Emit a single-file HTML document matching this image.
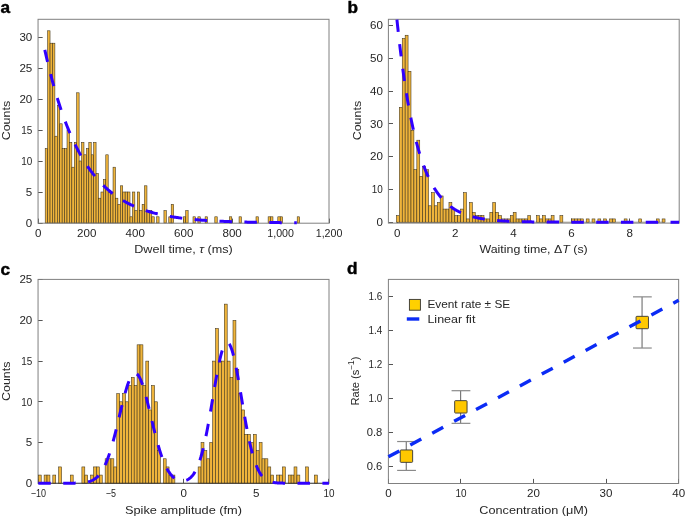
<!DOCTYPE html>
<html><head><meta charset="utf-8"><style>
html,body{margin:0;padding:0;background:#fff;}
body{width:685px;height:517px;overflow:hidden;font-family:"Liberation Sans",sans-serif;}
svg{display:block;will-change:transform;}
text{font-family:"Liberation Sans",sans-serif;}
</style></head><body>
<svg width="685" height="517" viewBox="0 0 685 517">
<defs><clipPath id="clipB"><rect x="388.4" y="19.3" width="290.8" height="210"/></clipPath></defs>
<rect width="685" height="517" fill="#fff"/>
<path d="M38.05,223.5h4.6M38.05,192.5h4.6M38.05,161.5h4.6M38.05,130.5h4.6M38.05,99.5h4.6M38.05,68.5h4.6M38.05,37.5h4.6M38.5,223.2v-4.6M86.5,223.2v-4.6M135.5,223.2v-4.6M183.5,223.2v-4.6M232.5,223.2v-4.6M280.5,223.2v-4.6M329.5,223.2v-4.6M388.4,222.5h4.6M388.4,189.5h4.6M388.4,156.5h4.6M388.4,123.5h4.6M388.4,91.5h4.6M388.4,58.5h4.6M388.4,25.5h4.6M397.5,223.1v-4.6M455.5,223.1v-4.6M513.5,223.1v-4.6M571.5,223.1v-4.6M629.5,223.1v-4.6M38.05,483.5h4.6M38.05,442.5h4.6M38.05,401.5h4.6M38.05,361.5h4.6M38.05,320.5h4.6M38.05,279.5h4.6M38.5,483.4v-4.6M110.5,483.4v-4.6M183.5,483.4v-4.6M256.5,483.4v-4.6M328.5,483.4v-4.6M388.4,466.5h4.6M388.4,432.5h4.6M388.4,398.5h4.6M388.4,364.5h4.6M388.4,330.5h4.6M388.4,296.5h4.6M388.5,483.5v-4.6M460.5,483.5v-4.6M533.5,483.5v-4.6M606.5,483.5v-4.6M678.5,483.5v-4.6" stroke="#555" stroke-width="1" fill="none"/>
<g fill="#EFB43B" stroke="#3b3018" stroke-width="0.55"><rect x="45.2" y="148.6" width="2.42" height="74.4"/><rect x="47.62" y="30.8" width="2.42" height="192.2"/><rect x="50.05" y="43.2" width="2.42" height="179.8"/><rect x="52.47" y="43.2" width="2.42" height="179.8"/><rect x="54.89" y="136.2" width="2.42" height="86.8"/><rect x="57.32" y="105.2" width="2.42" height="117.8"/><rect x="59.74" y="123.8" width="2.42" height="99.2"/><rect x="62.16" y="148.6" width="2.42" height="74.4"/><rect x="64.58" y="148.6" width="2.42" height="74.4"/><rect x="67.01" y="130" width="2.42" height="93"/><rect x="69.43" y="142.4" width="2.42" height="80.6"/><rect x="71.85" y="167.2" width="2.42" height="55.8"/><rect x="74.28" y="142.4" width="2.42" height="80.6"/><rect x="76.7" y="92.8" width="2.42" height="130.2"/><rect x="79.12" y="161" width="2.42" height="62"/><rect x="81.55" y="142.4" width="2.42" height="80.6"/><rect x="83.97" y="154.8" width="2.42" height="68.2"/><rect x="86.39" y="148.6" width="2.42" height="74.4"/><rect x="88.81" y="142.4" width="2.42" height="80.6"/><rect x="91.24" y="154.8" width="2.42" height="68.2"/><rect x="93.66" y="142.4" width="2.42" height="80.6"/><rect x="96.08" y="173.4" width="2.42" height="49.6"/><rect x="98.51" y="198.2" width="2.42" height="24.8"/><rect x="100.93" y="192" width="2.42" height="31"/><rect x="103.35" y="179.6" width="2.42" height="43.4"/><rect x="105.78" y="154.8" width="2.42" height="68.2"/><rect x="108.2" y="192" width="2.42" height="31"/><rect x="110.62" y="192" width="2.42" height="31"/><rect x="113.04" y="167.2" width="2.42" height="55.8"/><rect x="115.47" y="198.2" width="2.42" height="24.8"/><rect x="117.89" y="204.4" width="2.42" height="18.6"/><rect x="120.31" y="185.8" width="2.42" height="37.2"/><rect x="122.74" y="192" width="2.42" height="31"/><rect x="125.16" y="192" width="2.42" height="31"/><rect x="127.58" y="192" width="2.42" height="31"/><rect x="130" y="216.8" width="2.42" height="6.2"/><rect x="132.43" y="192" width="2.42" height="31"/><rect x="134.85" y="210.6" width="2.42" height="12.4"/><rect x="137.27" y="192" width="2.42" height="31"/><rect x="139.7" y="210.6" width="2.42" height="12.4"/><rect x="142.12" y="204.4" width="2.42" height="18.6"/><rect x="144.54" y="185.8" width="2.42" height="37.2"/><rect x="146.97" y="210.6" width="2.42" height="12.4"/><rect x="149.39" y="210.6" width="2.42" height="12.4"/><rect x="151.81" y="216.8" width="2.42" height="6.2"/><rect x="156.66" y="216.8" width="2.42" height="6.2"/><rect x="163.93" y="210.6" width="2.42" height="12.4"/><rect x="168.77" y="216.8" width="2.42" height="6.2"/><rect x="171.2" y="204.4" width="2.42" height="18.6"/><rect x="183.31" y="216.8" width="2.42" height="6.2"/><rect x="185.73" y="210.6" width="2.42" height="12.4"/><rect x="193" y="216.8" width="2.42" height="6.2"/><rect x="197.85" y="216.8" width="2.42" height="6.2"/><rect x="205.12" y="216.8" width="2.42" height="6.2"/><rect x="214.81" y="216.8" width="2.42" height="6.2"/><rect x="229.35" y="216.8" width="2.42" height="6.2"/><rect x="239.04" y="216.8" width="2.42" height="6.2"/><rect x="256" y="216.8" width="2.42" height="6.2"/><rect x="268.12" y="216.8" width="2.42" height="6.2"/><rect x="270.54" y="216.8" width="2.42" height="6.2"/><rect x="277.81" y="216.8" width="2.42" height="6.2"/><rect x="280.23" y="216.8" width="2.42" height="6.2"/><rect x="297.19" y="216.8" width="2.42" height="6.2"/></g>
<rect x="38.05" y="19.3" width="290.95" height="203.9" fill="none" stroke="#808080" stroke-width="1"/>
<path d="M44.79,49.8 L45.76,54.13 L46.73,58.35 L47.7,62.46 L48.67,66.48 L49.64,70.39 L50.61,74.21 L51.58,77.93 L52.55,81.55 L53.52,85.09 L54.49,88.54 L55.45,91.9 L56.42,95.17 L57.39,98.37 L58.36,101.49 L59.33,104.52 L60.3,107.49 L61.27,110.37 L62.24,113.19 L63.21,115.93 L64.18,118.61 L65.15,121.22 L66.12,123.76 L67.09,126.24 L68.05,128.66 L69.02,131.02 L69.99,133.32 L70.96,135.56 L71.93,137.75 L72.9,139.88 L73.87,141.96 L74.84,143.98 L75.81,145.96 L76.78,147.89 L77.75,149.76 L78.72,151.59 L79.68,153.38 L80.65,155.12 L81.62,156.82 L82.59,158.47 L83.56,160.08 L84.53,161.66 L85.5,163.19 L86.47,164.69 L87.44,166.14 L88.41,167.56 L89.38,168.95 L90.35,170.3 L91.32,171.62 L92.28,172.9 L93.25,174.16 L94.22,175.38 L95.19,176.57 L96.16,177.73 L97.13,178.86 L98.1,179.96 L99.07,181.04 L100.04,182.09 L101.01,183.11 L101.98,184.11 L102.95,185.08 L103.91,186.03 L104.88,186.95 L105.85,187.85 L106.82,188.73 L107.79,189.59 L108.76,190.42 L109.73,191.24 L110.7,192.03 L111.67,192.81 L112.64,193.56 L113.61,194.3 L114.58,195.01 L115.55,195.71 L116.51,196.4 L117.48,197.06 L118.45,197.71 L119.42,198.34 L120.39,198.96 L121.36,199.56 L122.33,200.15 L123.3,200.72 L124.27,201.27 L125.24,201.82 L126.21,202.35 L127.18,202.86 L128.14,203.37 L129.11,203.86 L130.08,204.34 L131.05,204.8 L132.02,205.26 L132.99,205.7 L133.96,206.13 L134.93,206.55 L135.9,206.97 L136.87,207.37 L137.84,207.76 L138.81,208.14 L139.78,208.51 L140.74,208.87 L141.71,209.23 L142.68,209.57 L143.65,209.91 L144.62,210.23 L145.59,210.55 L146.56,210.86 L147.53,211.17 L148.5,211.46 L149.47,211.75 L150.44,212.03 L151.41,212.31 L152.37,212.57 L153.34,212.83 L154.31,213.09 L155.28,213.34 L156.25,213.58 L157.22,213.81 L158.19,214.04 L159.16,214.27 L160.13,214.49 L161.1,214.7 L162.07,214.91 L163.04,215.11 L164.01,215.31 L164.97,215.5 L165.94,215.69 L166.91,215.87 L167.88,216.05 L168.85,216.22 L169.82,216.39 L170.79,216.55 L171.76,216.72 L172.73,216.87 L173.7,217.03 L174.67,217.18 L175.64,217.32 L176.6,217.46 L177.57,217.6 L178.54,217.74 L179.51,217.87 L180.48,218 L181.45,218.12 L182.42,218.24 L183.39,218.36 L184.36,218.48 L185.33,218.59 L186.3,218.7 L187.27,218.81 L188.24,218.91 L189.2,219.02 L190.17,219.12 L191.14,219.21 L192.11,219.31 L193.08,219.4 L194.05,219.49 L195.02,219.58 L195.99,219.66 L196.96,219.75 L197.93,219.83 L198.9,219.91 L199.87,219.98 L200.83,220.06 L201.8,220.13 L202.77,220.2 L203.74,220.27 L204.71,220.34 L205.68,220.41 L206.65,220.47 L207.62,220.54 L208.59,220.6 L209.56,220.66 L210.53,220.72 L211.5,220.77 L212.47,220.83 L213.43,220.88 L214.4,220.94 L215.37,220.99 L216.34,221.04 L217.31,221.09 L218.28,221.14 L219.25,221.18 L220.22,221.23 L221.19,221.27 L222.16,221.32 L223.13,221.36 L224.1,221.4 L225.06,221.44 L226.03,221.48 L227,221.52 L227.97,221.55 L228.94,221.59 L229.91,221.62 L230.88,221.66 L231.85,221.69 L232.82,221.72 L233.79,221.76 L234.76,221.79 L235.73,221.82 L236.7,221.85 L237.66,221.88 L238.63,221.9 L239.6,221.93 L240.57,221.96 L241.54,221.98 L242.51,222.01 L243.48,222.03 L244.45,222.06 L245.42,222.08 L246.39,222.11 L247.36,222.13 L248.33,222.15 L249.29,222.17 L250.26,222.19 L251.23,222.21 L252.2,222.23 L253.17,222.25 L254.14,222.27 L255.11,222.29 L256.08,222.31 L257.05,222.32 L258.02,222.34 L258.99,222.36 L259.96,222.37 L260.93,222.39 L261.89,222.4 L262.86,222.42 L263.83,222.43 L264.8,222.45 L265.77,222.46 L266.74,222.47 L267.71,222.49 L268.68,222.5 L269.65,222.51 L270.62,222.52 L271.59,222.54 L272.56,222.55 L273.52,222.56 L274.49,222.57 L275.46,222.58 L276.43,222.59 L277.4,222.6 L278.37,222.61 L279.34,222.62 L280.31,222.63 L281.28,222.64 L282.25,222.65 L283.22,222.66 L284.19,222.67 L285.16,222.68 L286.12,222.68 L287.09,222.69 L288.06,222.7 L289.03,222.71 L290,222.71 L290.97,222.72 L291.94,222.73 L292.91,222.73 L293.88,222.74 L294.85,222.75 L295.82,222.75 L296.79,222.76" fill="none" stroke="#3000FF" stroke-width="3" stroke-dasharray="12.46 12.46"/>
<line x1="396.4" y1="222.2" x2="665.04" y2="222.2" stroke="#3b3018" stroke-width="0.5"/>
<g fill="#EFB43B" stroke="#3b3018" stroke-width="0.55"><rect x="396.4" y="215.64" width="2.91" height="6.56"/><rect x="399.32" y="107.4" width="2.91" height="114.8"/><rect x="402.24" y="38.52" width="2.91" height="183.68"/><rect x="405.16" y="35.24" width="2.91" height="186.96"/><rect x="408.08" y="71.32" width="2.91" height="150.88"/><rect x="411" y="130.36" width="2.91" height="91.84"/><rect x="413.92" y="169.72" width="2.91" height="52.48"/><rect x="416.84" y="140.2" width="2.91" height="82"/><rect x="419.76" y="176.28" width="2.91" height="45.92"/><rect x="422.68" y="166.44" width="2.91" height="55.76"/><rect x="425.6" y="169.72" width="2.91" height="52.48"/><rect x="428.52" y="205.8" width="2.91" height="16.4"/><rect x="431.44" y="192.68" width="2.91" height="29.52"/><rect x="434.36" y="205.8" width="2.91" height="16.4"/><rect x="437.28" y="202.52" width="2.91" height="19.68"/><rect x="440.2" y="195.96" width="2.91" height="26.24"/><rect x="443.12" y="209.08" width="2.91" height="13.12"/><rect x="446.04" y="209.08" width="2.91" height="13.12"/><rect x="448.96" y="202.52" width="2.91" height="19.68"/><rect x="451.88" y="209.08" width="2.91" height="13.12"/><rect x="454.8" y="215.64" width="2.91" height="6.56"/><rect x="457.72" y="215.64" width="2.91" height="6.56"/><rect x="460.64" y="209.08" width="2.91" height="13.12"/><rect x="463.56" y="192.68" width="2.91" height="29.52"/><rect x="466.48" y="218.92" width="2.91" height="3.28"/><rect x="469.4" y="202.52" width="2.91" height="19.68"/><rect x="472.32" y="212.36" width="2.91" height="9.84"/><rect x="475.24" y="215.64" width="2.91" height="6.56"/><rect x="478.16" y="215.64" width="2.91" height="6.56"/><rect x="481.08" y="215.64" width="2.91" height="6.56"/><rect x="484" y="218.92" width="2.91" height="3.28"/><rect x="486.92" y="218.92" width="2.91" height="3.28"/><rect x="489.84" y="212.36" width="2.91" height="9.84"/><rect x="492.76" y="202.52" width="2.91" height="19.68"/><rect x="495.68" y="212.36" width="2.91" height="9.84"/><rect x="498.6" y="215.64" width="2.91" height="6.56"/><rect x="501.52" y="218.92" width="2.91" height="3.28"/><rect x="504.44" y="218.92" width="2.91" height="3.28"/><rect x="507.36" y="218.92" width="2.91" height="3.28"/><rect x="510.28" y="215.64" width="2.91" height="6.56"/><rect x="513.2" y="212.36" width="2.91" height="9.84"/><rect x="516.12" y="218.92" width="2.91" height="3.28"/><rect x="519.04" y="218.92" width="2.91" height="3.28"/><rect x="521.96" y="218.92" width="2.91" height="3.28"/><rect x="524.88" y="218.92" width="2.91" height="3.28"/><rect x="527.8" y="215.64" width="2.91" height="6.56"/><rect x="536.56" y="215.64" width="2.91" height="6.56"/><rect x="539.48" y="218.92" width="2.91" height="3.28"/><rect x="542.4" y="215.64" width="2.91" height="6.56"/><rect x="545.32" y="218.92" width="2.91" height="3.28"/><rect x="548.24" y="218.92" width="2.91" height="3.28"/><rect x="551.16" y="215.64" width="2.91" height="6.56"/><rect x="559.92" y="215.64" width="2.91" height="6.56"/><rect x="571.6" y="218.92" width="2.91" height="3.28"/><rect x="574.52" y="218.92" width="2.91" height="3.28"/><rect x="577.44" y="218.92" width="2.91" height="3.28"/><rect x="580.36" y="218.92" width="2.91" height="3.28"/><rect x="586.2" y="218.92" width="2.91" height="3.28"/><rect x="592.04" y="218.92" width="2.91" height="3.28"/><rect x="597.88" y="218.92" width="2.91" height="3.28"/><rect x="603.72" y="218.92" width="2.91" height="3.28"/><rect x="609.56" y="218.92" width="2.91" height="3.28"/><rect x="612.48" y="218.92" width="2.91" height="3.28"/><rect x="624.16" y="218.92" width="2.91" height="3.28"/><rect x="638.76" y="218.92" width="2.91" height="3.28"/><rect x="656.28" y="218.92" width="2.91" height="3.28"/><rect x="662.12" y="218.92" width="2.91" height="3.28"/></g>
<rect x="388.4" y="19.3" width="290.8" height="203.8" fill="none" stroke="#808080" stroke-width="1"/>
<path d="M396.93,19.49 L397.22,22.29 L397.51,25.04 L397.8,27.76 L398.09,30.45 L398.38,33.09 L398.67,35.7 L398.96,38.27 L399.25,40.81 L399.55,43.31 L399.84,45.78 L400.13,48.21 L400.42,50.61 L400.71,52.98 L401,55.31 L401.29,57.61 L401.58,59.88 L401.87,62.12 L402.16,64.33 L402.46,66.51 L402.75,68.65 L403.04,70.77 L403.33,72.86 L403.62,74.92 L403.91,76.95 L404.2,78.96 L404.49,80.93 L404.78,82.88 L405.07,84.8 L405.37,86.7 L405.66,88.57 L405.95,90.41 L406.24,92.23 L406.53,94.02 L406.82,95.79 L407.11,97.53 L407.4,99.25 L407.69,100.95 L407.98,102.62 L408.28,104.27 L408.57,105.89 L408.86,107.5 L409.15,109.08 L409.44,110.64 L409.73,112.18 L410.02,113.7 L410.31,115.19 L410.6,116.67 L410.89,118.13 L411.19,119.56 L411.48,120.98 L411.77,122.37 L412.06,123.75 L412.35,125.11 L412.64,126.45 L412.93,127.77 L413.22,129.07 L413.51,130.35 L413.8,131.62 L414.1,132.87 L414.39,134.1 L414.68,135.32 L414.97,136.52 L415.26,137.7 L415.55,138.86 L415.84,140.01 L416.13,141.15 L416.42,142.26 L416.71,143.37 L417.01,144.45 L417.3,145.53 L417.59,146.58 L417.88,147.63 L418.17,148.66 L418.46,149.67 L418.75,150.67 L419.04,151.66 L419.33,152.63 L419.62,153.59 L419.92,154.54 L420.21,155.47 L420.5,156.39 L420.79,157.3 L421.08,158.19 L421.37,159.08 L421.66,159.95 L421.95,160.81 L422.24,161.65 L422.53,162.49 L422.83,163.31 L423.12,164.12 L423.41,164.92 L423.7,165.71 L423.99,166.49 L424.28,167.26 L424.57,168.02 L424.86,168.77 L425.15,169.5 L425.44,170.23 L425.74,170.95 L426.03,171.65 L426.32,172.35 L426.61,173.04 L426.9,173.72 L427.19,174.39 L427.48,175.05 L427.77,175.7 L428.06,176.34 L428.35,176.97 L428.65,177.59 L428.94,178.21 L429.23,178.82 L429.52,179.41 L429.81,180 L430.1,180.59 L430.39,181.16 L430.68,181.73 L430.97,182.28 L431.26,182.83 L431.56,183.38 L431.85,183.91 L432.14,184.44 L432.43,184.96 L432.72,185.48 L433.01,185.98 L433.3,186.48 L433.59,186.97 L433.88,187.46 L434.17,187.94 L434.47,188.41 L434.76,188.88 L435.05,189.34 L435.34,189.79 L435.63,190.24 L435.92,190.68 L436.21,191.11 L436.5,191.54 L436.79,191.97 L437.08,192.38 L437.38,192.79 L437.67,193.2 L437.96,193.6 L438.25,193.99 L438.54,194.38 L438.83,194.77 L439.12,195.14 L439.41,195.52 L439.7,195.89 L439.99,196.25 L440.29,196.61 L440.58,196.96 L440.87,197.31 L441.16,197.65 L441.45,197.99 L441.74,198.32 L442.03,198.65 L442.32,198.98 L442.61,199.3 L442.9,199.61 L443.2,199.93 L443.49,200.23 L443.78,200.54 L444.07,200.83 L444.36,201.13 L444.65,201.42 L444.94,201.71 L445.23,201.99 L445.52,202.27 L445.81,202.54 L446.11,202.81 L446.4,203.08 L446.69,203.35 L446.98,203.61 L447.27,203.86 L447.56,204.11 L447.85,204.36 L448.14,204.61 L448.43,204.85 L448.72,205.09 L449.02,205.33 L449.31,205.56 L449.6,205.79 L449.89,206.02 L450.18,206.24 L450.47,206.46 L450.76,206.68 L451.05,206.89 L451.34,207.1 L451.63,207.31 L451.93,207.52 L452.22,207.72 L452.51,207.92 L452.8,208.12 L453.09,208.31 L453.38,208.5 L453.67,208.69 L453.96,208.88 L454.25,209.06 L454.54,209.24 L454.84,209.42 L455.13,209.6 L455.42,209.77 L455.71,209.94 L456,210.11 L456.29,210.28 L456.58,210.44 L456.87,210.6 L457.16,210.76 L457.45,210.92 L457.75,211.08 L458.04,211.23 L458.33,211.38 L458.62,211.53 L458.91,211.68 L459.2,211.82 L459.49,211.97 L459.78,212.11 L460.07,212.25 L460.36,212.38 L460.66,212.52 L460.95,212.65 L461.24,212.78 L461.53,212.91 L461.82,213.04 L462.11,213.17 L462.4,213.29 L462.69,213.42 L462.98,213.54 L463.27,213.66 L463.57,213.77 L463.86,213.89 L464.15,214.01 L464.44,214.12 L464.73,214.23 L465.02,214.34 L465.31,214.45 L465.6,214.56 L465.89,214.66 L466.18,214.76 L466.48,214.87 L466.77,214.97 L467.06,215.07 L467.35,215.17 L467.64,215.26 L467.93,215.36 L468.22,215.45 L468.51,215.55 L468.8,215.64 L469.09,215.73 L469.39,215.82 L469.68,215.91 L469.97,215.99 L470.26,216.08 L470.55,216.16 L470.84,216.25 L471.13,216.33 L471.42,216.41 L471.71,216.49 L472,216.57 L472.3,216.65 L472.59,216.72 L472.88,216.8 L473.17,216.87 L473.46,216.95 L473.75,217.02 L474.04,217.09 L474.33,217.16 L474.62,217.23 L474.91,217.3 L475.21,217.37 L475.5,217.43 L475.79,217.5 L476.08,217.56 L476.37,217.63 L476.66,217.69 L476.95,217.75 L477.24,217.81 L477.53,217.87 L477.82,217.93 L478.12,217.99 L478.41,218.05 L478.7,218.11 L478.99,218.16 L479.28,218.22 L479.57,218.28 L479.86,218.33 L480.15,218.38 L480.44,218.44 L480.73,218.49 L481.03,218.54 L481.32,218.59 L481.61,218.64 L481.9,218.69 L482.19,218.74 L482.48,218.78 L482.77,218.83 L483.06,218.88 L483.35,218.92 L483.64,218.97 L483.94,219.01 L484.23,219.06 L484.52,219.1 L484.81,219.14 L485.1,219.19 L485.39,219.23 L485.68,219.27 L485.97,219.31 L486.26,219.35 L486.55,219.39 L486.85,219.43 L487.14,219.46 L487.43,219.5 L487.72,219.54 L488.01,219.58 L488.3,219.61 L488.59,219.65 L488.88,219.68 L489.17,219.72 L489.46,219.75 L489.76,219.79 L490.05,219.82 L490.34,219.85 L490.63,219.88 L490.92,219.92 L491.21,219.95 L491.5,219.98 L491.79,220.01 L492.08,220.04 L492.37,220.07 L492.67,220.1 L492.96,220.13 L493.25,220.16 L493.54,220.18 L493.83,220.21 L494.12,220.24 L494.41,220.27 L494.7,220.29 L494.99,220.32 L495.28,220.35 L495.58,220.37 L495.87,220.4 L496.16,220.42 L496.45,220.45 L496.74,220.47 L497.03,220.49 L497.32,220.52 L497.61,220.54 L497.9,220.56 L498.19,220.59 L498.49,220.61 L498.78,220.63 L499.07,220.65 L499.36,220.67 L499.65,220.69 L499.94,220.72 L500.23,220.74 L500.52,220.76 L500.81,220.78 L501.1,220.8 L501.4,220.82 L501.69,220.83 L501.98,220.85 L502.27,220.87 L502.56,220.89 L502.85,220.91 L503.14,220.93 L503.43,220.94 L503.72,220.96 L504.01,220.98 L504.31,220.99 L504.6,221.01 L504.89,221.03 L505.18,221.04 L505.47,221.06 L505.76,221.08 L506.05,221.09 L506.34,221.11 L506.63,221.12 L506.92,221.14 L507.22,221.15 L507.51,221.17 L507.8,221.18 L508.09,221.19 L508.38,221.21 L508.67,221.22 L508.96,221.23 L509.25,221.25 L509.54,221.26 L509.83,221.27 L510.13,221.29 L510.42,221.3 L510.71,221.31 L511,221.32 L511.29,221.34 L511.58,221.35 L511.87,221.36 L512.16,221.37 L512.45,221.38 L512.74,221.39 L513.04,221.41 L513.33,221.42 L513.62,221.43 L513.91,221.44 L514.2,221.45 L514.49,221.46 L514.78,221.47 L515.07,221.48 L515.36,221.49 L515.65,221.5 L515.95,221.51 L516.24,221.52 L516.53,221.53 L516.82,221.54 L517.11,221.55 L517.4,221.55 L517.69,221.56 L517.98,221.57 L518.27,221.58 L518.56,221.59 L518.86,221.6 L519.15,221.61 L519.44,221.61 L519.73,221.62 L520.02,221.63 L520.31,221.64 L520.6,221.65 L520.89,221.65 L521.18,221.66 L521.47,221.67 L521.77,221.68 L522.06,221.68 L522.35,221.69 L522.64,221.7 L522.93,221.7 L523.22,221.71 L523.51,221.72 L523.8,221.72 L524.09,221.73 L524.38,221.74 L524.68,221.74 L524.97,221.75 L525.26,221.76 L525.55,221.76 L525.84,221.77 L526.13,221.77 L526.42,221.78 L526.71,221.79 L527,221.79 L527.29,221.8 L527.59,221.8 L527.88,221.81 L528.17,221.81 L528.46,221.82 L528.75,221.82 L529.04,221.83 L529.33,221.83 L529.62,221.84 L529.91,221.84 L530.2,221.85 L530.5,221.85 L530.79,221.86 L531.08,221.86 L531.37,221.87 L531.66,221.87 L531.95,221.88 L532.24,221.88 L532.53,221.89 L532.82,221.89 L533.11,221.9 L533.41,221.9 L533.7,221.9 L533.99,221.91 L534.28,221.91 L534.57,221.92 L534.86,221.92 L535.15,221.92 L535.44,221.93 L535.73,221.93 L536.02,221.93 L536.32,221.94 L536.61,221.94 L536.9,221.95 L537.19,221.95 L537.48,221.95 L537.77,221.96 L538.06,221.96 L538.35,221.96 L538.64,221.97 L538.93,221.97 L539.23,221.97 L539.52,221.98 L539.81,221.98 L540.1,221.98 L540.39,221.98 L540.68,221.99 L540.97,221.99 L541.26,221.99 L541.55,222 L541.84,222 L542.14,222 L542.43,222 L542.72,222.01 L543.01,222.01 L543.3,222.01 L543.59,222.02 L543.88,222.02 L544.17,222.02 L544.46,222.02 L544.75,222.03 L545.05,222.03 L545.34,222.03 L545.63,222.03 L545.92,222.03 L546.21,222.04 L546.5,222.04 L546.79,222.04 L547.08,222.04 L547.37,222.05 L547.66,222.05 L547.96,222.05 L548.25,222.05 L548.54,222.05 L548.83,222.06 L549.12,222.06 L549.41,222.06 L549.7,222.06 L549.99,222.06 L550.28,222.07 L550.57,222.07 L550.87,222.07 L551.16,222.07 L551.45,222.07 L551.74,222.07 L552.03,222.08 L552.32,222.08 L552.61,222.08 L552.9,222.08 L553.19,222.08 L553.48,222.08 L553.78,222.09 L554.07,222.09 L554.36,222.09 L554.65,222.09 L554.94,222.09 L555.23,222.09 L555.52,222.1 L555.81,222.1 L556.1,222.1 L556.39,222.1 L556.69,222.1 L556.98,222.1 L557.27,222.1 L557.56,222.11 L557.85,222.11 L558.14,222.11 L558.43,222.11 L558.72,222.11 L559.01,222.11 L559.3,222.11 L559.6,222.11 L559.89,222.12 L560.18,222.12 L560.47,222.12 L560.76,222.12 L561.05,222.12 L561.34,222.12 L561.63,222.12 L561.92,222.12 L562.21,222.12 L562.51,222.13 L562.8,222.13 L563.09,222.13 L563.38,222.13 L563.67,222.13 L563.96,222.13 L564.25,222.13 L564.54,222.13 L564.83,222.13 L565.12,222.13 L565.42,222.13 L565.71,222.14 L566,222.14 L566.29,222.14 L566.58,222.14 L566.87,222.14 L567.16,222.14 L567.45,222.14 L567.74,222.14 L568.03,222.14 L568.33,222.14 L568.62,222.14 L568.91,222.14 L569.2,222.15 L569.49,222.15 L569.78,222.15 L570.07,222.15 L570.36,222.15 L570.65,222.15 L570.94,222.15 L571.24,222.15 L571.53,222.15 L571.82,222.15 L572.11,222.15 L572.4,222.15 L572.69,222.15 L572.98,222.15 L573.27,222.16 L573.56,222.16 L573.85,222.16 L574.15,222.16 L574.44,222.16 L574.73,222.16 L575.02,222.16 L575.31,222.16 L575.6,222.16 L575.89,222.16 L576.18,222.16 L576.47,222.16 L576.76,222.16 L577.06,222.16 L577.35,222.16 L577.64,222.16 L577.93,222.16 L578.22,222.16 L578.51,222.17 L578.8,222.17 L579.09,222.17 L579.38,222.17 L579.67,222.17 L579.97,222.17 L580.26,222.17 L580.55,222.17 L580.84,222.17 L581.13,222.17 L581.42,222.17 L581.71,222.17 L582,222.17 L582.29,222.17 L582.58,222.17 L582.88,222.17 L583.17,222.17 L583.46,222.17 L583.75,222.17 L584.04,222.17 L584.33,222.17 L584.62,222.17 L584.91,222.17 L585.2,222.17 L585.49,222.17 L585.79,222.18 L586.08,222.18 L586.37,222.18 L586.66,222.18 L586.95,222.18 L587.24,222.18 L587.53,222.18 L587.82,222.18 L588.11,222.18 L588.4,222.18 L588.7,222.18 L588.99,222.18 L589.28,222.18 L589.57,222.18 L589.86,222.18 L590.15,222.18 L590.44,222.18 L590.73,222.18 L591.02,222.18 L591.31,222.18 L591.61,222.18 L591.9,222.18 L592.19,222.18 L592.48,222.18 L592.77,222.18 L593.06,222.18 L593.35,222.18 L593.64,222.18 L593.93,222.18 L594.22,222.18 L594.52,222.18 L594.81,222.18 L595.1,222.18 L595.39,222.18 L595.68,222.18 L595.97,222.18 L596.26,222.19 L596.55,222.19 L596.84,222.19 L597.13,222.19 L597.43,222.19 L597.72,222.19 L598.01,222.19 L598.3,222.19 L598.59,222.19 L598.88,222.19 L599.17,222.19 L599.46,222.19 L599.75,222.19 L600.04,222.19 L600.34,222.19 L600.63,222.19 L600.92,222.19 L601.21,222.19 L601.5,222.19 L601.79,222.19 L602.08,222.19 L602.37,222.19 L602.66,222.19 L602.95,222.19 L603.25,222.19 L603.54,222.19 L603.83,222.19 L604.12,222.19 L604.41,222.19 L604.7,222.19 L604.99,222.19 L605.28,222.19 L605.57,222.19 L605.86,222.19 L606.16,222.19 L606.45,222.19 L606.74,222.19 L607.03,222.19 L607.32,222.19 L607.61,222.19 L607.9,222.19 L608.19,222.19 L608.48,222.19 L608.77,222.19 L609.07,222.19 L609.36,222.19 L609.65,222.19 L609.94,222.19 L610.23,222.19 L610.52,222.19 L610.81,222.19 L611.1,222.19 L611.39,222.19 L611.68,222.19 L611.98,222.19 L612.27,222.19 L612.56,222.19 L612.85,222.19 L613.14,222.19 L613.43,222.19 L613.72,222.19 L614.01,222.19 L614.3,222.19 L614.59,222.19 L614.89,222.19 L615.18,222.19 L615.47,222.19 L615.76,222.19 L616.05,222.19 L616.34,222.19 L616.63,222.19 L616.92,222.19 L617.21,222.19 L617.5,222.19 L617.8,222.19 L618.09,222.19 L618.38,222.19 L618.67,222.19 L618.96,222.19 L619.25,222.2 L619.54,222.2 L619.83,222.2 L620.12,222.2 L620.41,222.2 L620.71,222.2 L621,222.2 L621.29,222.2 L621.58,222.2 L621.87,222.2 L622.16,222.2 L622.45,222.2 L622.74,222.2 L623.03,222.2 L623.32,222.2 L623.62,222.2 L623.91,222.2 L624.2,222.2 L624.49,222.2 L624.78,222.2 L625.07,222.2 L625.36,222.2 L625.65,222.2 L625.94,222.2 L626.23,222.2 L626.53,222.2 L626.82,222.2 L627.11,222.2 L627.4,222.2 L627.69,222.2 L627.98,222.2 L628.27,222.2 L628.56,222.2 L628.85,222.2 L629.14,222.2 L629.44,222.2 L629.73,222.2 L630.02,222.2 L630.31,222.2 L630.6,222.2 L630.89,222.2 L631.18,222.2 L631.47,222.2 L631.76,222.2 L632.05,222.2 L632.35,222.2 L632.64,222.2 L632.93,222.2 L633.22,222.2 L633.51,222.2 L633.8,222.2 L634.09,222.2 L634.38,222.2 L634.67,222.2 L634.96,222.2 L635.26,222.2 L635.55,222.2 L635.84,222.2 L636.13,222.2 L636.42,222.2 L636.71,222.2 L637,222.2 L637.29,222.2 L637.58,222.2 L637.87,222.2 L638.17,222.2 L638.46,222.2 L638.75,222.2 L639.04,222.2 L639.33,222.2 L639.62,222.2 L639.91,222.2 L640.2,222.2 L640.49,222.2 L640.78,222.2 L641.08,222.2 L641.37,222.2 L641.66,222.2 L641.95,222.2 L642.24,222.2 L642.53,222.2 L642.82,222.2 L643.11,222.2 L643.4,222.2 L643.69,222.2 L643.99,222.2 L644.28,222.2 L644.57,222.2 L644.86,222.2 L645.15,222.2 L645.44,222.2 L645.73,222.2 L646.02,222.2 L646.31,222.2 L646.6,222.2 L646.9,222.2 L647.19,222.2 L647.48,222.2 L647.77,222.2 L648.06,222.2 L648.35,222.2 L648.64,222.2 L648.93,222.2 L649.22,222.2 L649.51,222.2 L649.81,222.2 L650.1,222.2 L650.39,222.2 L650.68,222.2 L650.97,222.2 L651.26,222.2 L651.55,222.2 L651.84,222.2 L652.13,222.2 L652.42,222.2 L652.72,222.2 L653.01,222.2 L653.3,222.2 L653.59,222.2 L653.88,222.2 L654.17,222.2 L654.46,222.2 L654.75,222.2 L655.04,222.2 L655.33,222.2 L655.63,222.2 L655.92,222.2 L656.21,222.2 L656.5,222.2 L656.79,222.2 L657.08,222.2 L657.37,222.2 L657.66,222.2 L657.95,222.2 L658.24,222.2 L658.54,222.2 L658.83,222.2 L659.12,222.2 L659.41,222.2 L659.7,222.2 L659.99,222.2 L660.28,222.2 L660.57,222.2 L660.86,222.2 L661.15,222.2 L661.45,222.2 L661.74,222.2 L662.03,222.2 L662.32,222.2 L662.61,222.2 L662.9,222.2 L663.19,222.2 L663.48,222.2 L663.77,222.2 L664.06,222.2 L664.36,222.2 L664.65,222.2 L664.94,222.2 L665.23,222.2 L665.52,222.2 L665.81,222.2 L666.1,222.2 L666.39,222.2 L666.68,222.2 L666.97,222.2 L667.27,222.2 L667.56,222.2 L667.85,222.2 L668.14,222.2 L668.43,222.2 L668.72,222.2 L669.01,222.2 L669.3,222.2 L669.59,222.2 L669.88,222.2 L670.18,222.2 L670.47,222.2 L670.76,222.2 L671.05,222.2 L671.34,222.2 L671.63,222.2 L671.92,222.2 L672.21,222.2 L672.5,222.2 L672.79,222.2 L673.09,222.2 L673.38,222.2 L673.67,222.2 L673.96,222.2 L674.25,222.2 L674.54,222.2 L674.83,222.2 L675.12,222.2 L675.41,222.2 L675.7,222.2 L676,222.2 L676.29,222.2 L676.58,222.2 L676.87,222.2 L677.16,222.2 L677.45,222.2 L677.74,222.2 L678.03,222.2 L678.32,222.2 L678.61,222.2 L678.91,222.2 L679.2,222.2" fill="none" stroke="#3000FF" stroke-width="3" stroke-dasharray="12.39 12.39" clip-path="url(#clipB)"/>
<rect x="38.05" y="279.4" width="290.95" height="204" fill="none" stroke="#808080" stroke-width="1"/>
<g fill="#EFB43B" stroke="#3b3018" stroke-width="0.55"><rect x="38.3" y="475.06" width="2.91" height="8.14"/><rect x="44.11" y="475.06" width="2.91" height="8.14"/><rect x="47.02" y="475.06" width="2.91" height="8.14"/><rect x="52.83" y="475.06" width="2.91" height="8.14"/><rect x="58.64" y="466.92" width="2.91" height="16.28"/><rect x="70.27" y="475.06" width="2.91" height="8.14"/><rect x="81.89" y="466.92" width="2.91" height="16.28"/><rect x="84.8" y="475.06" width="2.91" height="8.14"/><rect x="90.61" y="475.06" width="2.91" height="8.14"/><rect x="93.51" y="466.92" width="2.91" height="16.28"/><rect x="96.42" y="466.92" width="2.91" height="16.28"/><rect x="99.33" y="475.06" width="2.91" height="8.14"/><rect x="105.14" y="458.78" width="2.91" height="24.42"/><rect x="108.04" y="458.78" width="2.91" height="24.42"/><rect x="110.95" y="458.78" width="2.91" height="24.42"/><rect x="113.86" y="466.92" width="2.91" height="16.28"/><rect x="116.76" y="393.66" width="2.91" height="89.54"/><rect x="119.67" y="401.8" width="2.91" height="81.4"/><rect x="122.57" y="393.66" width="2.91" height="89.54"/><rect x="125.48" y="401.8" width="2.91" height="81.4"/><rect x="128.39" y="385.52" width="2.91" height="97.68"/><rect x="131.29" y="377.38" width="2.91" height="105.82"/><rect x="134.2" y="385.52" width="2.91" height="97.68"/><rect x="137.1" y="344.82" width="2.91" height="138.38"/><rect x="140.01" y="344.82" width="2.91" height="138.38"/><rect x="142.92" y="385.52" width="2.91" height="97.68"/><rect x="145.82" y="361.1" width="2.91" height="122.1"/><rect x="148.73" y="409.94" width="2.91" height="73.26"/><rect x="151.63" y="385.52" width="2.91" height="97.68"/><rect x="154.54" y="401.8" width="2.91" height="81.4"/><rect x="157.45" y="450.64" width="2.91" height="32.56"/><rect x="163.26" y="458.78" width="2.91" height="24.42"/><rect x="166.16" y="466.92" width="2.91" height="16.28"/><rect x="169.07" y="475.06" width="2.91" height="8.14"/><rect x="171.98" y="475.06" width="2.91" height="8.14"/><rect x="198.13" y="466.92" width="2.91" height="16.28"/><rect x="201.04" y="442.5" width="2.91" height="40.7"/><rect x="203.94" y="450.64" width="2.91" height="32.56"/><rect x="206.85" y="458.78" width="2.91" height="24.42"/><rect x="209.75" y="442.5" width="2.91" height="40.7"/><rect x="212.66" y="361.1" width="2.91" height="122.1"/><rect x="215.57" y="328.54" width="2.91" height="154.66"/><rect x="218.47" y="361.1" width="2.91" height="122.1"/><rect x="221.38" y="361.1" width="2.91" height="122.1"/><rect x="224.28" y="304.12" width="2.91" height="179.08"/><rect x="227.19" y="361.1" width="2.91" height="122.1"/><rect x="230.1" y="377.38" width="2.91" height="105.82"/><rect x="233" y="320.4" width="2.91" height="162.8"/><rect x="235.91" y="369.24" width="2.91" height="113.96"/><rect x="238.81" y="393.66" width="2.91" height="89.54"/><rect x="241.72" y="409.94" width="2.91" height="73.26"/><rect x="244.63" y="434.36" width="2.91" height="48.84"/><rect x="247.53" y="434.36" width="2.91" height="48.84"/><rect x="250.44" y="442.5" width="2.91" height="40.7"/><rect x="253.34" y="434.36" width="2.91" height="48.84"/><rect x="256.25" y="450.64" width="2.91" height="32.56"/><rect x="259.16" y="442.5" width="2.91" height="40.7"/><rect x="262.06" y="458.78" width="2.91" height="24.42"/><rect x="264.97" y="458.78" width="2.91" height="24.42"/><rect x="267.87" y="466.92" width="2.91" height="16.28"/><rect x="270.78" y="475.06" width="2.91" height="8.14"/><rect x="276.59" y="475.06" width="2.91" height="8.14"/><rect x="279.5" y="475.06" width="2.91" height="8.14"/><rect x="282.4" y="466.92" width="2.91" height="16.28"/><rect x="288.22" y="475.06" width="2.91" height="8.14"/><rect x="291.12" y="475.06" width="2.91" height="8.14"/><rect x="294.03" y="466.92" width="2.91" height="16.28"/><rect x="296.93" y="475.06" width="2.91" height="8.14"/><rect x="305.65" y="466.92" width="2.91" height="16.28"/><rect x="314.37" y="475.06" width="2.91" height="8.14"/></g>
<line x1="38.3" y1="483.2" x2="329" y2="483.2" stroke="#333" stroke-width="0.7"/>
<path d="M38.3,483.2 L39.03,483.2 L39.75,483.2 L40.48,483.2 L41.21,483.2 L41.93,483.2 L42.66,483.2 L43.39,483.2 L44.11,483.2 L44.84,483.2 L45.57,483.2 L46.29,483.2 L47.02,483.2 L47.74,483.2 L48.47,483.2 L49.2,483.2 L49.92,483.2 L50.65,483.2 L51.38,483.2 L52.1,483.2 L52.83,483.2 L53.56,483.2 L54.28,483.2 L55.01,483.2 L55.74,483.2 L56.46,483.2 L57.19,483.2 L57.92,483.2 L58.64,483.2 L59.37,483.2 L60.1,483.2 L60.82,483.2 L61.55,483.2 L62.27,483.2 L63,483.2 L63.73,483.2 L64.45,483.19 L65.18,483.19 L65.91,483.19 L66.63,483.19 L67.36,483.19 L68.09,483.19 L68.81,483.18 L69.54,483.18 L70.27,483.18 L70.99,483.17 L71.72,483.16 L72.45,483.16 L73.17,483.15 L73.9,483.14 L74.63,483.13 L75.35,483.11 L76.08,483.1 L76.8,483.08 L77.53,483.06 L78.26,483.03 L78.98,483 L79.71,482.96 L80.44,482.92 L81.16,482.87 L81.89,482.82 L82.62,482.76 L83.34,482.68 L84.07,482.6 L84.8,482.51 L85.52,482.4 L86.25,482.27 L86.98,482.13 L87.7,481.97 L88.43,481.8 L89.16,481.59 L89.88,481.37 L90.61,481.11 L91.33,480.82 L92.06,480.5 L92.79,480.15 L93.51,479.75 L94.24,479.31 L94.97,478.83 L95.69,478.29 L96.42,477.7 L97.15,477.05 L97.87,476.34 L98.6,475.56 L99.33,474.72 L100.05,473.8 L100.78,472.8 L101.51,471.72 L102.23,470.56 L102.96,469.3 L103.69,467.96 L104.41,466.52 L105.14,464.98 L105.86,463.34 L106.59,461.6 L107.32,459.76 L108.04,457.81 L108.77,455.76 L109.5,453.61 L110.22,451.36 L110.95,449.01 L111.68,446.56 L112.4,444.01 L113.13,441.38 L113.86,438.67 L114.58,435.88 L115.31,433.02 L116.04,430.11 L116.76,427.14 L117.49,424.13 L118.22,421.09 L118.94,418.03 L119.67,414.97 L120.39,411.91 L121.12,408.87 L121.85,405.87 L122.57,402.91 L123.3,400.02 L124.03,397.2 L124.75,394.48 L125.48,391.86 L126.21,389.37 L126.93,387.01 L127.66,384.8 L128.39,382.75 L129.11,380.87 L129.84,379.18 L130.57,377.69 L131.29,376.4 L132.02,375.32 L132.75,374.46 L133.47,373.82 L134.2,373.41 L134.92,373.24 L135.65,373.29 L136.38,373.58 L137.1,374.1 L137.83,374.84 L138.56,375.81 L139.28,376.99 L140.01,378.38 L140.74,379.97 L141.46,381.75 L142.19,383.71 L142.92,385.84 L143.64,388.12 L144.37,390.55 L145.1,393.1 L145.82,395.77 L146.55,398.54 L147.28,401.4 L148,404.32 L148.73,407.3 L149.45,410.33 L150.18,413.37 L150.91,416.44 L151.63,419.5 L152.36,422.55 L153.09,425.58 L153.81,428.57 L154.54,431.51 L155.27,434.4 L155.99,437.23 L156.72,439.98 L157.45,442.66 L158.17,445.24 L158.9,447.74 L159.63,450.14 L160.35,452.45 L161.08,454.65 L161.81,456.76 L162.53,458.76 L163.26,460.65 L163.98,462.44 L164.71,464.13 L165.44,465.72 L166.16,467.21 L166.89,468.6 L167.62,469.89 L168.34,471.1 L169.07,472.21 L169.8,473.24 L170.52,474.19 L171.25,475.07 L171.98,475.86 L172.7,476.59 L173.43,477.25 L174.16,477.84 L174.88,478.37 L175.61,478.85 L176.34,479.27 L177.06,479.64 L177.79,479.96 L178.51,480.22 L179.24,480.44 L179.97,480.62 L180.69,480.75 L181.42,480.84 L182.15,480.88 L182.87,480.88 L183.6,480.83 L184.33,480.73 L185.05,480.59 L185.78,480.39 L186.51,480.14 L187.23,479.84 L187.96,479.47 L188.69,479.04 L189.41,478.54 L190.14,477.97 L190.87,477.32 L191.59,476.58 L192.32,475.75 L193.04,474.83 L193.77,473.8 L194.5,472.67 L195.22,471.42 L195.95,470.04 L196.68,468.54 L197.4,466.9 L198.13,465.13 L198.86,463.2 L199.58,461.13 L200.31,458.9 L201.04,456.52 L201.76,453.97 L202.49,451.26 L203.22,448.39 L203.94,445.36 L204.67,442.17 L205.4,438.82 L206.12,435.33 L206.85,431.69 L207.57,427.91 L208.3,424.02 L209.03,420.01 L209.75,415.9 L210.48,411.71 L211.21,407.46 L211.93,403.16 L212.66,398.83 L213.39,394.49 L214.11,390.18 L214.84,385.9 L215.57,381.69 L216.29,377.57 L217.02,373.57 L217.75,369.7 L218.47,366.01 L219.2,362.5 L219.93,359.21 L220.65,356.16 L221.38,353.36 L222.1,350.85 L222.83,348.64 L223.56,346.74 L224.28,345.17 L225.01,343.94 L225.74,343.06 L226.46,342.54 L227.19,342.38 L227.92,342.58 L228.64,343.15 L229.37,344.07 L230.1,345.34 L230.82,346.95 L231.55,348.89 L232.28,351.14 L233,353.68 L233.73,356.51 L234.46,359.59 L235.18,362.91 L235.91,366.44 L236.63,370.16 L237.36,374.04 L238.09,378.06 L238.81,382.19 L239.54,386.41 L240.27,390.69 L240.99,395.01 L241.72,399.35 L242.45,403.67 L243.17,407.97 L243.9,412.22 L244.63,416.4 L245.35,420.5 L246.08,424.49 L246.81,428.38 L247.53,432.14 L248.26,435.76 L248.98,439.24 L249.71,442.57 L250.44,445.74 L251.16,448.75 L251.89,451.61 L252.62,454.3 L253.34,456.83 L254.07,459.2 L254.8,461.41 L255.52,463.48 L256.25,465.39 L256.98,467.15 L257.7,468.78 L258.43,470.28 L259.16,471.65 L259.88,472.91 L260.61,474.05 L261.34,475.08 L262.06,476.02 L262.79,476.86 L263.51,477.62 L264.24,478.3 L264.97,478.91 L265.69,479.46 L266.42,479.94 L267.15,480.37 L267.87,480.74 L268.6,481.08 L269.33,481.37 L270.05,481.63 L270.78,481.85 L271.51,482.05 L272.23,482.21 L272.96,482.36 L273.69,482.49 L274.41,482.6 L275.14,482.69 L275.87,482.77 L276.59,482.84 L277.32,482.9 L278.04,482.95 L278.77,482.99 L279.5,483.02 L280.22,483.05 L280.95,483.08 L281.68,483.1 L282.4,483.12 L283.13,483.13 L283.86,483.15 L284.58,483.16 L285.31,483.16 L286.04,483.17 L286.76,483.18 L287.49,483.18 L288.22,483.18 L288.94,483.19 L289.67,483.19 L290.4,483.19 L291.12,483.19 L291.85,483.19 L292.57,483.2 L293.3,483.2 L294.03,483.2 L294.75,483.2 L295.48,483.2 L296.21,483.2 L296.93,483.2 L297.66,483.2 L298.39,483.2 L299.11,483.2 L299.84,483.2 L300.57,483.2 L301.29,483.2 L302.02,483.2 L302.75,483.2 L303.47,483.2 L304.2,483.2 L304.93,483.2 L305.65,483.2 L306.38,483.2 L307.1,483.2 L307.83,483.2 L308.56,483.2 L309.28,483.2 L310.01,483.2 L310.74,483.2 L311.46,483.2 L312.19,483.2 L312.92,483.2 L313.64,483.2 L314.37,483.2 L315.1,483.2 L315.82,483.2 L316.55,483.2 L317.28,483.2 L318,483.2 L318.73,483.2 L319.46,483.2 L320.18,483.2 L320.91,483.2 L321.64,483.2 L322.36,483.2 L323.09,483.2 L323.81,483.2 L324.54,483.2 L325.27,483.2 L325.99,483.2 L326.72,483.2 L327.45,483.2 L328.17,483.2 L328.9,483.2" fill="none" stroke="#3000FF" stroke-width="3" stroke-dasharray="12.46 12.46"/>
<rect x="388.4" y="279.4" width="290.25" height="204.1" fill="none" stroke="#808080" stroke-width="1"/>
<line x1="406.24" y1="441.53" x2="406.24" y2="470.43" stroke="#606060" stroke-width="1"/>
<line x1="397.14" y1="470.43" x2="415.94" y2="470.43" stroke="#8a8a8a" stroke-width="1.2"/>
<line x1="397.14" y1="441.53" x2="415.94" y2="441.53" stroke="#8a8a8a" stroke-width="1.2"/>
<rect x="400.24" y="449.95" width="12.4" height="12.4" rx="0.8" fill="#FFC800" stroke="#333" stroke-width="0.9"/>
<line x1="460.66" y1="390.7" x2="460.66" y2="423.34" stroke="#606060" stroke-width="1"/>
<line x1="451.56" y1="423.34" x2="470.36" y2="423.34" stroke="#8a8a8a" stroke-width="1.2"/>
<line x1="451.56" y1="390.7" x2="470.36" y2="390.7" stroke="#8a8a8a" stroke-width="1.2"/>
<rect x="454.66" y="400.65" width="12.4" height="12.4" rx="0.8" fill="#FFC800" stroke="#333" stroke-width="0.9"/>
<line x1="642.06" y1="296.86" x2="642.06" y2="348.03" stroke="#606060" stroke-width="1"/>
<line x1="632.96" y1="348.03" x2="651.76" y2="348.03" stroke="#8a8a8a" stroke-width="1.2"/>
<line x1="632.96" y1="296.86" x2="651.76" y2="296.86" stroke="#8a8a8a" stroke-width="1.2"/>
<rect x="636.06" y="316.33" width="12.4" height="12.4" rx="0.8" fill="#FFC800" stroke="#333" stroke-width="0.9"/>
<line x1="388.4" y1="456.83" x2="678.65" y2="300.26" stroke="#0B2BF5" stroke-width="3.4" stroke-dasharray="12.45 12.45"/>
<rect x="409.4" y="299.4" width="11" height="10.8" fill="#FFD000" stroke="#333" stroke-width="0.9"/>
<line x1="406.8" y1="319" x2="419.3" y2="319" stroke="#0B2BF5" stroke-width="3.4"/>
<g fill="#262626" font-family="Liberation Sans, sans-serif">
<text x="32.3" y="226.7" font-size="10.5" text-anchor="end" textLength="6.45" lengthAdjust="spacingAndGlyphs">0</text>
<text x="32.3" y="195.7" font-size="10.5" text-anchor="end" textLength="6.45" lengthAdjust="spacingAndGlyphs">5</text>
<text x="32.3" y="164.7" font-size="10.5" text-anchor="end" textLength="11.05" lengthAdjust="spacingAndGlyphs">10</text>
<text x="32.3" y="133.7" font-size="10.5" text-anchor="end" textLength="11.05" lengthAdjust="spacingAndGlyphs">15</text>
<text x="32.3" y="102.7" font-size="10.5" text-anchor="end" textLength="12.9" lengthAdjust="spacingAndGlyphs">20</text>
<text x="32.3" y="71.7" font-size="10.5" text-anchor="end" textLength="12.9" lengthAdjust="spacingAndGlyphs">25</text>
<text x="32.3" y="40.7" font-size="10.5" text-anchor="end" textLength="12.9" lengthAdjust="spacingAndGlyphs">30</text>
<text x="38.3" y="236.7" font-size="10.5" text-anchor="middle" textLength="6.45" lengthAdjust="spacingAndGlyphs">0</text>
<text x="86.76" y="236.7" font-size="10.5" text-anchor="middle" textLength="19.35" lengthAdjust="spacingAndGlyphs">200</text>
<text x="135.22" y="236.7" font-size="10.5" text-anchor="middle" textLength="19.35" lengthAdjust="spacingAndGlyphs">400</text>
<text x="183.68" y="236.7" font-size="10.5" text-anchor="middle" textLength="19.35" lengthAdjust="spacingAndGlyphs">600</text>
<text x="232.14" y="236.7" font-size="10.5" text-anchor="middle" textLength="19.35" lengthAdjust="spacingAndGlyphs">800</text>
<text x="280.6" y="236.7" font-size="10.5" text-anchor="middle" textLength="26.65" lengthAdjust="spacingAndGlyphs">1,000</text>
<text x="329.06" y="236.7" font-size="10.5" text-anchor="middle" textLength="26.65" lengthAdjust="spacingAndGlyphs">1,200</text>
<text x="382.9" y="225.9" font-size="10.5" text-anchor="end" textLength="6.45" lengthAdjust="spacingAndGlyphs">0</text>
<text x="382.9" y="193.1" font-size="10.5" text-anchor="end" textLength="11.05" lengthAdjust="spacingAndGlyphs">10</text>
<text x="382.9" y="160.3" font-size="10.5" text-anchor="end" textLength="12.9" lengthAdjust="spacingAndGlyphs">20</text>
<text x="382.9" y="127.5" font-size="10.5" text-anchor="end" textLength="12.9" lengthAdjust="spacingAndGlyphs">30</text>
<text x="382.9" y="94.7" font-size="10.5" text-anchor="end" textLength="12.9" lengthAdjust="spacingAndGlyphs">40</text>
<text x="382.9" y="61.9" font-size="10.5" text-anchor="end" textLength="12.9" lengthAdjust="spacingAndGlyphs">50</text>
<text x="382.9" y="29.1" font-size="10.5" text-anchor="end" textLength="12.9" lengthAdjust="spacingAndGlyphs">60</text>
<text x="397.2" y="236.7" font-size="10.5" text-anchor="middle" textLength="6.45" lengthAdjust="spacingAndGlyphs">0</text>
<text x="455.3" y="236.7" font-size="10.5" text-anchor="middle" textLength="6.45" lengthAdjust="spacingAndGlyphs">2</text>
<text x="513.4" y="236.7" font-size="10.5" text-anchor="middle" textLength="6.45" lengthAdjust="spacingAndGlyphs">4</text>
<text x="571.5" y="236.7" font-size="10.5" text-anchor="middle" textLength="6.45" lengthAdjust="spacingAndGlyphs">6</text>
<text x="629.6" y="236.7" font-size="10.5" text-anchor="middle" textLength="6.45" lengthAdjust="spacingAndGlyphs">8</text>
<text x="32.3" y="486.9" font-size="10.5" text-anchor="end" textLength="6.45" lengthAdjust="spacingAndGlyphs">0</text>
<text x="32.3" y="446.2" font-size="10.5" text-anchor="end" textLength="6.45" lengthAdjust="spacingAndGlyphs">5</text>
<text x="32.3" y="405.5" font-size="10.5" text-anchor="end" textLength="11.05" lengthAdjust="spacingAndGlyphs">10</text>
<text x="32.3" y="364.8" font-size="10.5" text-anchor="end" textLength="11.05" lengthAdjust="spacingAndGlyphs">15</text>
<text x="32.3" y="324.1" font-size="10.5" text-anchor="end" textLength="12.9" lengthAdjust="spacingAndGlyphs">20</text>
<text x="32.3" y="283.4" font-size="10.5" text-anchor="end" textLength="12.9" lengthAdjust="spacingAndGlyphs">25</text>
<text x="38.3" y="497" font-size="10.5" text-anchor="middle" textLength="15.3" lengthAdjust="spacingAndGlyphs">−10</text>
<text x="110.95" y="497" font-size="10.5" text-anchor="middle" textLength="10.2" lengthAdjust="spacingAndGlyphs">−5</text>
<text x="183.6" y="497" font-size="10.5" text-anchor="middle" textLength="6.45" lengthAdjust="spacingAndGlyphs">0</text>
<text x="256.25" y="497" font-size="10.5" text-anchor="middle" textLength="6.45" lengthAdjust="spacingAndGlyphs">5</text>
<text x="328.9" y="497" font-size="10.5" text-anchor="middle" textLength="11.05" lengthAdjust="spacingAndGlyphs">10</text>
<text x="382.3" y="470.05" font-size="10.5" text-anchor="end" textLength="15.6" lengthAdjust="spacingAndGlyphs">0.6</text>
<text x="382.3" y="436.05" font-size="10.5" text-anchor="end" textLength="15.6" lengthAdjust="spacingAndGlyphs">0.8</text>
<text x="382.3" y="402.05" font-size="10.5" text-anchor="end" textLength="13.75" lengthAdjust="spacingAndGlyphs">1.0</text>
<text x="382.3" y="368.05" font-size="10.5" text-anchor="end" textLength="13.75" lengthAdjust="spacingAndGlyphs">1.2</text>
<text x="382.3" y="334.05" font-size="10.5" text-anchor="end" textLength="13.75" lengthAdjust="spacingAndGlyphs">1.4</text>
<text x="382.3" y="300.05" font-size="10.5" text-anchor="end" textLength="13.75" lengthAdjust="spacingAndGlyphs">1.6</text>
<text x="388.4" y="497" font-size="10.5" text-anchor="middle" textLength="6.45" lengthAdjust="spacingAndGlyphs">0</text>
<text x="460.96" y="497" font-size="10.5" text-anchor="middle" textLength="11.05" lengthAdjust="spacingAndGlyphs">10</text>
<text x="533.52" y="497" font-size="10.5" text-anchor="middle" textLength="12.9" lengthAdjust="spacingAndGlyphs">20</text>
<text x="606.08" y="497" font-size="10.5" text-anchor="middle" textLength="12.9" lengthAdjust="spacingAndGlyphs">30</text>
<text x="678.64" y="497" font-size="10.5" text-anchor="middle" textLength="12.9" lengthAdjust="spacingAndGlyphs">40</text>
<text x="183.5" y="253.2" font-size="11.3" text-anchor="middle" textLength="98.6" lengthAdjust="spacingAndGlyphs">Dwell time, <tspan font-style="italic">τ</tspan> (ms)</text>
<text x="533.6" y="253.2" font-size="11.3" text-anchor="middle" textLength="108.3" lengthAdjust="spacingAndGlyphs">Waiting time, Δ<tspan font-style="italic">T</tspan> (s)</text>
<text x="183.5" y="514.4" font-size="11.3" text-anchor="middle" textLength="117" lengthAdjust="spacingAndGlyphs">Spike amplitude (fm)</text>
<text x="533.7" y="514.4" font-size="11.3" text-anchor="middle" textLength="108.8" lengthAdjust="spacingAndGlyphs">Concentration (μM)</text>
<text transform="translate(10.2,120.6) rotate(-90)" font-size="11.3" text-anchor="middle" textLength="39.4" lengthAdjust="spacingAndGlyphs">Counts</text>
<text transform="translate(361.4,120.6) rotate(-90)" font-size="11.3" text-anchor="middle" textLength="39.4" lengthAdjust="spacingAndGlyphs">Counts</text>
<text transform="translate(10.2,381.3) rotate(-90)" font-size="11.3" text-anchor="middle" textLength="39.4" lengthAdjust="spacingAndGlyphs">Counts</text>
<text transform="translate(358.6,381.1) rotate(-90)" font-size="11.3" text-anchor="middle" textLength="49" lengthAdjust="spacingAndGlyphs">Rate (s<tspan font-size="8.3" dy="-4.6">−1</tspan><tspan dy="4.6">)</tspan></text>
<text x="427.4" y="308.2" font-size="11.3" textLength="82.8" lengthAdjust="spacingAndGlyphs">Event rate ± SE</text>
<text x="427.4" y="323" font-size="11.3" textLength="48" lengthAdjust="spacingAndGlyphs">Linear fit</text>
<text x="0.4" y="12.8" font-size="17.2" font-weight="bold" fill="#000" stroke="#000" stroke-width="0.45">a</text>
<text x="347.4" y="12.8" font-size="17.2" font-weight="bold" fill="#000" stroke="#000" stroke-width="0.45">b</text>
<text x="0.4" y="274.5" font-size="17.2" font-weight="bold" fill="#000" stroke="#000" stroke-width="0.45">c</text>
<text x="347" y="274" font-size="17.2" font-weight="bold" fill="#000" stroke="#000" stroke-width="0.45">d</text>
</g>
</svg>
</body></html>
